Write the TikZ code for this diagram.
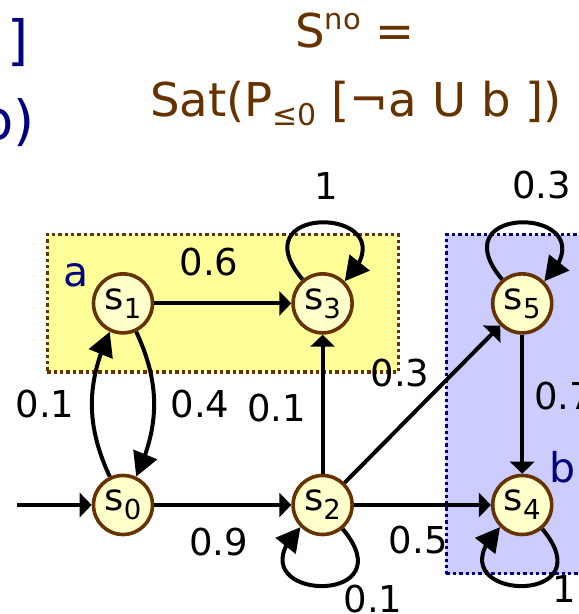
\documentclass[tikz,border=0pt]{standalone}
\usepackage{fontspec}
\setmainfont{DejaVu Sans}
\usepackage{tikz}
\usetikzlibrary{arrows.meta, bending, positioning, fit, backgrounds}
\definecolor{satbrown}{RGB}{102,51,0}
\definecolor{satnavy}{RGB}{0,0,128}
\definecolor{statefill}{RGB}{255,255,204}
\definecolor{afill}{RGB}{255,255,153}
\definecolor{bfill}{RGB}{204,204,255}
\newcommand{\lblfont}{\fontsize{37}{40}\selectfont}
\newcommand{\ttlfont}{\fontsize{46.6}{50}\selectfont}
\newcommand{\stidx}[1]{\raisebox{-9pt}{\fontsize{27.5}{28}\selectfont #1}}
\newcommand{\ttlsub}[1]{\raisebox{-9pt}{\fontsize{30}{31}\selectfont #1}}
\newcommand{\ttlsup}[1]{\raisebox{18pt}{\fontsize{29}{30}\selectfont #1}}
\tikzset{
  %% ---- states and regions ----
  state/.style  = {circle, draw=satbrown, line width=3.6pt,
                   fill=statefill, minimum size=59pt, inner sep=0pt,
                   font=\lblfont},
  region/.style = {rectangle, line width=3.4pt, dash pattern=on 3.4pt off 3pt,
                   inner xsep=44.5pt, inner ysep=37.5pt},
  prop/.style   = {font=\fontsize{41}{44}\selectfont, text=satnavy,
                   inner sep=0pt},
  lbl/.style    = {font=\lblfont, inner sep=0pt},
  ttl/.style    = {font=\ttlfont, text=satbrown, inner sep=0pt},
  %% ---- arrows ----
  arr/.style    = {-{Triangle[length=12pt, width=24pt]}, line width=4pt},
  carr/.style   = {-{Triangle[length=24pt, width=25pt]}, line width=4pt},
}
\begin{document}
\begin{tikzpicture}[x=1pt, y=1pt, node distance=139pt and 137pt]
\useasboundingbox (0,0) rectangle (579,614);
\clip (0,0) rectangle (579,614);

% title
\node[ttl, anchor=base] (sno)  at (355,566) {S\ttlsup{no} =};
\node[ttl, anchor=base] (sat)  at (356,497)
  {Sat(P\ttlsub{≤0} [¬a U b ])};
\node[prop, font=\fontsize{54}{58}\selectfont, anchor=base east] (brk) at (29,554) {]};
\node[prop, font=\fontsize{54}{58}\selectfont, anchor=base east] (bpar) at (35,474) {b)};

% states
\node[state]                (s0) at (123,109) {s\stidx{0}};
\node[state, right=of s0]   (s2) {s\stidx{2}};
\node[state, right=of s2]   (s4) {s\stidx{4}};
\node[state, above=of s0]   (s1) {s\stidx{1}};
\node[state, above=of s2]   (s3) {s\stidx{3}};
\node[state, above=of s4]   (s5) {s\stidx{5}};
\coordinate (init) at (17,109);

% labelled regions
\begin{scope}[on background layer]
  \node[region, draw=satbrown, fill=afill, fit=(s1)(s3)] (areg) {};
  \node[region, draw=satnavy,  fill=bfill, fit=(s5)(s4)] (breg) {};
\end{scope}
\node[prop] (pa) at (76,339) {a};
\node[prop] (pb) at (563,147) {b};

% transitions
\draw[arr] (init) -- (s0);
\draw[arr] (s0) -- node[lbl, below=21pt, pos=0.47] {0.9} (s2);
\draw[arr] (s2) -- node[lbl, below=19.5pt, pos=0.47] {0.5} (s4);
\draw[arr] (s1) -- node[lbl, above=25pt, pos=0.4] {0.6} (s3);
\draw[arr] (s2) -- node[lbl, left=14.5pt, pos=0.47] {0.1} (s3);
\draw[arr] (s2) -- node[lbl, pos=0.53, xshift=-27pt, yshift=26.5pt] {0.3} (s5);
\draw[arr] (s5) -- node[lbl, right=10pt, pos=0.44] {0.7} (s4);
\draw[carr] (s0) to[bend left=25] node[lbl, left=15.5pt] {0.1} (s1);
\draw[carr] (s1) to[bend left=25] node[lbl, right=14.5pt] {0.4} (s0);
\draw[carr] (s3) to[out=130, in=45, distance=105pt]
  node[lbl, above=21pt] {1} (s3);
\draw[carr] (s5) to[out=130, in=45, distance=105pt]
  node[lbl, above=21pt, xshift=16pt] {0.3} (s5);
\draw[carr] (s2) to[out=310, in=225, distance=105pt]
  node[lbl, xshift=54pt, yshift=-13pt] {0.1} (s2);
\draw[carr] (s4) to[out=310, in=225, distance=105pt]
  node[lbl, xshift=46pt, yshift=-3pt] {1} (s4);
\end{tikzpicture}
\end{document}
